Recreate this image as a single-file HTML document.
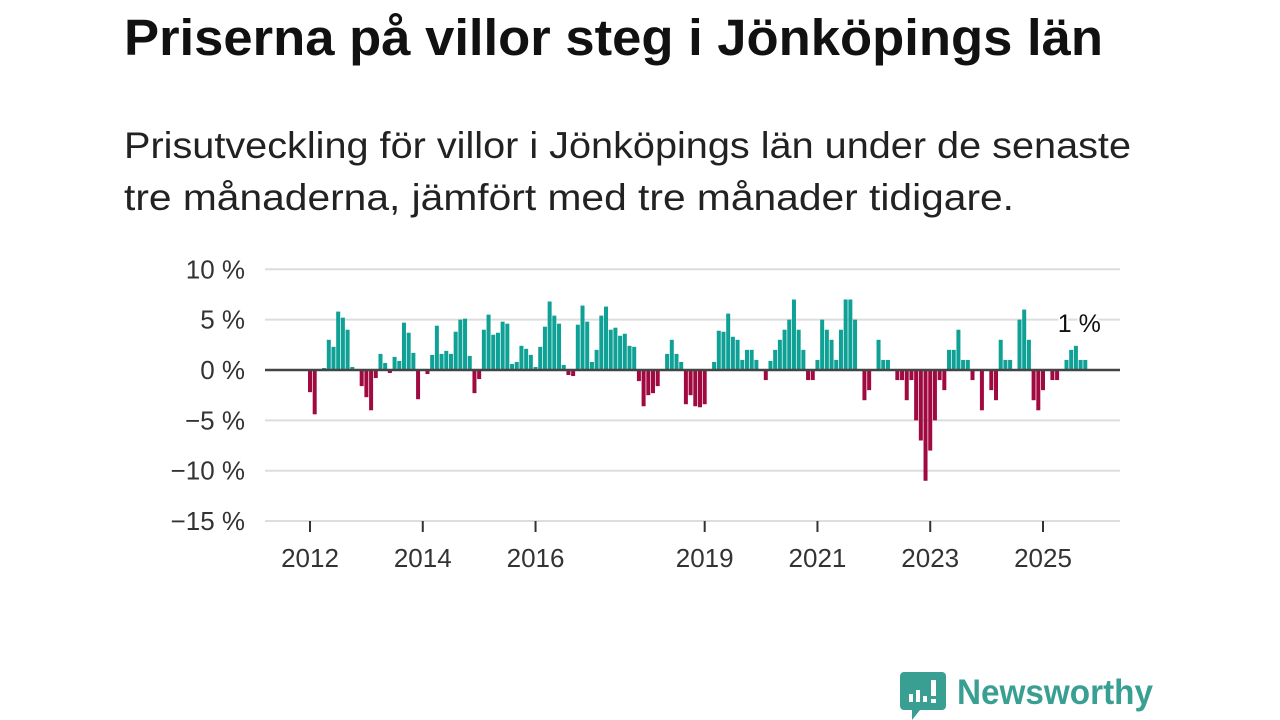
<!DOCTYPE html>
<html><head><meta charset="utf-8"><style>
html,body{margin:0;padding:0;background:#fff;}
svg{display:block;font-family:"Liberation Sans",sans-serif;}
</style></head><body>
<svg width="1280" height="720" viewBox="0 0 1280 720">
<text x="124" y="55" font-size="51" font-weight="bold" fill="#111" textLength="979" lengthAdjust="spacingAndGlyphs">Priserna på villor steg i Jönköpings län</text>
<text x="124" y="158" font-size="37" fill="#222" textLength="1007" lengthAdjust="spacingAndGlyphs">Prisutveckling för villor i Jönköpings län under de senaste</text>
<text x="124" y="210" font-size="37" fill="#222" textLength="890" lengthAdjust="spacingAndGlyphs">tre månaderna, jämfört med tre månader tidigare.</text>
<g id="grid"></g>
<g id="bars"></g>
<g id="axes"></g>
<g>
<path d="M904 672 h38 a4 4 0 0 1 4 4 v30 a4 4 0 0 1 -4 4 h-22 l-8 10 v-10 h-8 a4 4 0 0 1 -4 -4 v-30 a4 4 0 0 1 4 -4z" fill="#3a9f93"/>
<rect x="909" y="694" width="4" height="8" fill="#fff"/><rect x="916" y="690" width="4" height="12" fill="#fff"/><rect x="923" y="696" width="4" height="6" fill="#fff"/><rect x="931" y="680" width="5" height="16" fill="#fff"/><rect x="931" y="699" width="5" height="4" fill="#fff"/>
<text x="957" y="704" font-size="35" font-weight="bold" fill="#3a9f93" textLength="196" lengthAdjust="spacingAndGlyphs">Newsworthy</text>
</g>
</svg>
<script>
const values = [-2.2,-4.4,0,0.2,3.0,2.3,5.8,5.2,4.0,0.3,0,-1.6,
-2.7,-4.0,-0.8,1.6,0.7,-0.3,1.3,0.9,4.7,3.7,1.7,-2.9,
0,-0.4,1.5,4.4,1.6,1.9,1.6,3.8,5.0,5.1,1.4,-2.3,
-0.9,4.0,5.5,3.5,3.7,4.8,4.6,0.6,0.8,2.4,2.1,1.5,
0.3,2.3,4.3,6.8,5.4,4.6,0.5,-0.5,-0.6,4.5,6.4,4.8,
0.8,2.0,5.4,6.3,4.0,4.2,3.4,3.6,2.4,2.3,-1.1,-3.6,
-2.5,-2.3,-1.6,0,1.6,3.0,1.6,0.8,-3.4,-2.5,-3.6,-3.7,
-3.4,0.1,0.8,3.9,3.8,5.6,3.3,3.0,1.0,2.0,2.0,1.0,
0,-1.0,0.9,2.0,3.0,4.0,5.0,7.0,4.0,2.0,-1.0,-1.0,
1.0,5.0,4.0,3.0,1.0,4.0,7.0,7.0,5.0,0,-3.0,-2.0,
0,3.0,1.0,1.0,0,-1.0,-1.0,-3.0,-1.0,-5.0,-7.0,-11.0,
-8.0,-5.0,-1.0,-2.0,2.0,2.0,4.0,1.0,1.0,-1.0,0,-4.0,
0,-2.0,-3.0,3.0,1.0,1.0,0,5.0,6.0,3.0,-3.0,-4.0,
-2.0,0,-1.0,-1.0,0,1.0,2.0,2.4,1.0,1.0];
const startYear = 2012;
const yTicks = [10,5,0,-5,-10,-15];
const yTickLabels = ["10 %","5 %","0 %","−5 %","−10 %","−15 %"];
const xTickYears = [2012,2014,2016,2019,2021,2023,2025];
const lastLabel = "1 %";

const NS="http://www.w3.org/2000/svg";
const mpx=(1043-310)/156;
function xScale(m){return 310+m*mpx;}
function yScale(v){return 370-v*10.07;}
function mk(tag,attrs,parent){const e=document.createElementNS(NS,tag);for(const k in attrs)e.setAttribute(k,attrs[k]);parent.appendChild(e);return e;}
const grid=document.getElementById('grid'),bars=document.getElementById('bars'),axes=document.getElementById('axes');
yTicks.forEach((t,i)=>{
  if(t!==0){const l=mk('line',{x1:265,x2:1120,y1:yScale(t),y2:yScale(t),stroke:'#ddd','stroke-width':2},grid);
  
  }
  const tx=mk('text',{x:245,y:yScale(t)+9,'font-size':26,fill:'#333','text-anchor':'end'},axes);
  tx.textContent=yTickLabels[i];
  
  
});
values.forEach((v,m)=>{
  if(v===0)return;
  const y0=yScale(0),y1=yScale(v);
  const r=mk('rect',{x:xScale(m)-2,y:Math.min(y0,y1),width:4,height:Math.abs(y1-y0),fill:v>0?'#10a196':'#a10a40'},bars);
  
  
});
const zl=mk('line',{x1:265,x2:1120,y1:370,y2:370,stroke:'#444','stroke-width':2.5},axes);


xTickYears.forEach(yr=>{
  const x=xScale((yr-startYear)*12);
  const tk=mk('line',{x1:x,x2:x,y1:521,y2:532,stroke:'#333','stroke-width':2},axes);
  
  
  const t=mk('text',{x:x,y:567,'font-size':26,fill:'#333','text-anchor':'middle'},axes);
  t.textContent=yr;
  
  
});
const lm=values.length-1;
const lab=mk('text',{x:xScale(lm)-6,y:yScale(values[lm])-28,'font-size':25,fill:'#111','text-anchor':'middle',stroke:'#fff','stroke-width':4,'paint-order':'stroke'},axes);
lab.textContent=lastLabel;


</script>
</body></html>
